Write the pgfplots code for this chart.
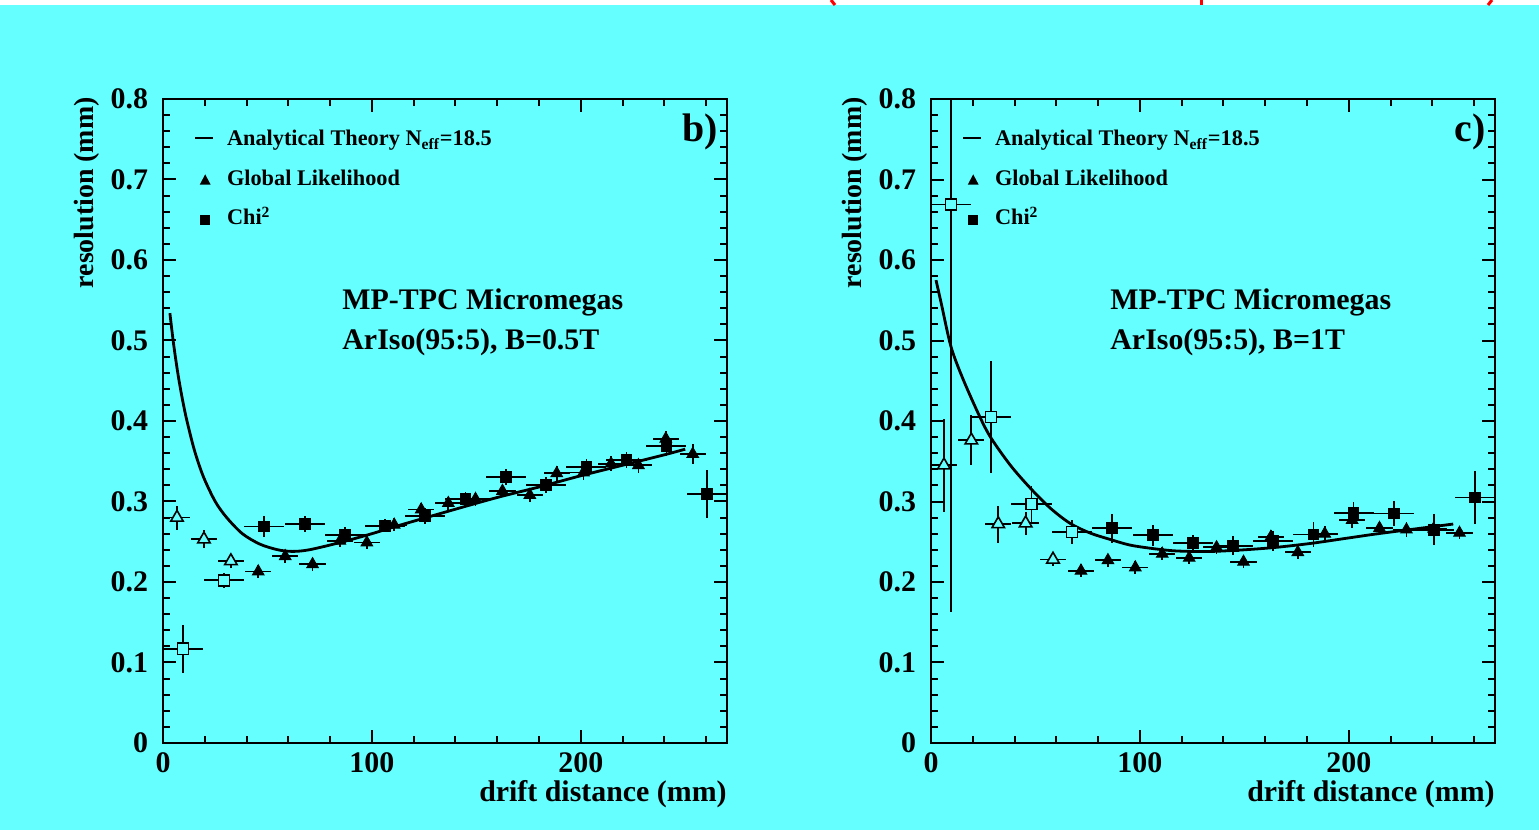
\documentclass[border=0pt]{standalone}
\usepackage{fontspec}
\setmainfont{Liberation Serif}
\usepackage{pgfplots}
\usepackage{pgfplotstable}
\pgfplotsset{compat=1.18}
\definecolor{bg}{HTML}{66FFFF}

% ---------------- data: panel b) ----------------
\pgfplotstableread{
x y ex ey
6.7 0.280 6.3 0.015
19.6 0.253 6.3 0.011
32.5 0.226 6.3 0.009
}\openTriL
\pgfplotstableread{
x y ex ey
9.6 0.117 9.6 0.030
29.2 0.202 9.6 0.009
}\openSqL
\pgfplotstableread{
x y ex ey
45.6 0.213 6.3 0.008
58.5 0.232 6.3 0.008
71.6 0.222 6.3 0.008
84.7 0.251 6.3 0.008
97.6 0.249 6.3 0.008
110.7 0.271 6.3 0.008
123.6 0.290 6.3 0.008
136.6 0.298 6.3 0.008
149.6 0.303 6.3 0.008
162.5 0.313 6.3 0.008
175.6 0.308 6.3 0.009
188.5 0.335 6.3 0.009
201.3 0.336 6.3 0.009
214.5 0.347 6.3 0.009
227.6 0.345 6.3 0.009
240.7 0.378 6.3 0.010
253.6 0.359 6.3 0.013
}\triL
\pgfplotstableread{
x y ex ey
48.5 0.269 9.6 0.013
67.8 0.272 9.6 0.010
87.1 0.258 9.6 0.010
106.4 0.270 9.6 0.008
125.5 0.282 9.6 0.010
144.8 0.303 9.6 0.009
164.1 0.330 9.6 0.010
183.3 0.320 9.6 0.010
202.7 0.343 9.6 0.010
221.9 0.352 9.6 0.010
241.0 0.369 9.6 0.012
260.3 0.309 9.6 0.030
}\sqL
\pgfplotstableread{
x y
3.3 0.534
5 0.497
7 0.461
9 0.431
11.3 0.402
15 0.364
19.3 0.331
25 0.300
30.5 0.280
38 0.260
46.4 0.247
55 0.240
62 0.238
70 0.240
84.7 0.249
100 0.260
110 0.268
136.7 0.288
160 0.305
180 0.318
200 0.332
220 0.345
240 0.358
250 0.365
}\thL
% ---------------- data: panel c) ----------------
\pgfplotstableread{
x y ex ey
6.2 0.345 6.3 0.058
19.3 0.376 6.3 0.031
32.2 0.272 6.3 0.023
45.3 0.273 6.3 0.014
58.4 0.228 6.3 0.008
}\openTriR
\pgfplotstableread{
x y ex ey
9.6 0.669 9.6 0.506
28.7 0.405 9.6 0.070
48.1 0.297 9.6 0.022
67.5 0.262 9.6 0.015
}\openSqR
\pgfplotstableread{
x y ex ey
71.8 0.214 6.3 0.008
84.7 0.227 6.3 0.008
97.8 0.218 6.3 0.008
110.7 0.235 6.3 0.008
123.6 0.230 6.3 0.008
136.7 0.243 6.3 0.008
149.6 0.225 6.3 0.008
162.7 0.256 6.3 0.009
175.6 0.237 6.3 0.008
188.5 0.260 6.3 0.009
201.6 0.277 6.3 0.010
214.7 0.267 6.3 0.009
227.6 0.265 6.3 0.009
240.6 0.266 6.3 0.010
253.0 0.261 6.3 0.008
}\triR
\pgfplotstableread{
x y ex ey
86.8 0.267 9.6 0.018
106.2 0.258 9.6 0.013
125.6 0.248 9.6 0.011
144.5 0.245 9.6 0.012
163.8 0.251 9.6 0.012
183.1 0.259 9.6 0.015
202.3 0.286 9.6 0.013
221.6 0.285 9.6 0.016
240.7 0.265 9.6 0.019
260.3 0.305 9.6 0.033
}\sqR
\pgfplotstableread{
x y
2.4 0.575
5 0.545
9.6 0.492
15.5 0.451
23.4 0.405
28.7 0.379
38 0.345
47.4 0.317
57 0.292
66.5 0.273
76 0.261
85.6 0.253
95 0.246
104.8 0.242
115 0.239
124 0.238
135 0.238
150 0.240
165 0.243
182 0.248
198 0.254
214 0.260
232 0.266
250 0.272
}\thR

\pgfplotsset{
  panel/.style={
    scale only axis, width=282bp, height=322bp,
    xmin=0, xmax=270, ymin=0, ymax=0.8,
    xtick={0,100,200}, minor xtick={0,20,...,260},
    ytick={0,0.1,0.2,0.3,0.4,0.5,0.6,0.7,0.8},
    minor ytick={0,0.02,...,0.8},
    tick align=inside, xtick pos=both, ytick pos=both,
    major tick length=6.5bp, minor tick length=3.5bp,
    axis line style={line width=1bp},
    every tick/.style={line width=1bp, black},
    ticklabel style={font=\fontsize{15}{15}\selectfont\bfseries},
    yticklabel style={xshift=-4bp},
    xticklabel style={yshift=-1.5bp},
    /pgf/number format/assume math mode=true,
    axis background/.style={fill=bg},
  },
  ebars/.style={
    error bars/.cd, x dir=both, x explicit, y dir=both, y explicit,
    error mark=none, error bar style={line width=0.9bp, black},
  },
  ftri/.style={only marks, mark=triangle*, mark size=3.3bp, mark options={fill=black, draw=black, line width=0.5bp}},
  otri/.style={only marks, mark=triangle*, mark size=3.6bp, mark options={fill=bg, draw=black, line width=0.8bp}},
  fsq/.style={only marks, mark=square*, mark size=2.7bp, mark options={fill=black, draw=black, line width=0.5bp}},
  osq/.style={only marks, mark=square*, mark size=2.8bp, mark options={fill=bg, draw=black, line width=0.8bp}},
  theo/.style={no marks, smooth, line width=1.4bp, black},
}

\begin{document}
\begin{tikzpicture}[font=\bfseries]
\useasboundingbox (0,0) rectangle (769.5bp,415bp);
\fill[white] (0,0) rectangle (769.5bp,415bp);
\fill[bg] (0,0) rectangle (769.5bp,412.5bp);
% red fragments of a cropped title above the figure
\draw[red, line width=1.5bp] (415.5bp,415bp) -- (417.5bp,412.5bp);
\draw[red, line width=1.5bp] (600.5bp,415bp) -- (600.5bp,412.5bp);
\draw[red, line width=1.5bp] (746bp,415bp) -- (744bp,412.5bp);

% ---------- panel b) ----------
\begin{axis}[panel, at={(81.5bp,43.5bp)}, anchor=south west]
\addplot[theo] table[x=x,y=y] {\thL};
\addplot[otri, ebars] table[x=x,y=y,x error=ex,y error=ey] {\openTriL};
\addplot[osq, ebars] table[x=x,y=y,x error=ex,y error=ey] {\openSqL};
\addplot[ftri, ebars] table[x=x,y=y,x error=ex,y error=ey] {\triL};
\addplot[fsq, ebars] table[x=x,y=y,x error=ex,y error=ey] {\sqL};
\end{axis}

% ---------- panel c) ----------
\begin{axis}[panel, at={(465.5bp,43.5bp)}, anchor=south west]
\addplot[theo] table[x=x,y=y] {\thR};
\addplot[otri, ebars] table[x=x,y=y,x error=ex,y error=ey] {\openTriR};
\addplot[osq, ebars] table[x=x,y=y,x error=ex,y error=ey] {\openSqR};
\addplot[ftri, ebars] table[x=x,y=y,x error=ex,y error=ey] {\triR};
\addplot[fsq, ebars] table[x=x,y=y,x error=ex,y error=ey] {\sqR};
\end{axis}

% ---------- texts (both panels) ----------
\foreach \dx/\lab/\field in {0bp/b)/{B=0.5T}, 384bp/c)/{B=1T}} {
  \begin{scope}[xshift=\dx]
    % axis titles
    \node[anchor=base east, inner sep=0, font=\fontsize{15}{15}\selectfont\bfseries] at (363.5bp,14.5bp) {drift distance (mm)};
    \node[rotate=90, anchor=base east, inner sep=0, font=\fontsize{14}{15}\selectfont\bfseries] at (46.5bp,366.5bp) {resolution (mm)};
    % legend
    \draw[line width=1.1bp] (97.5bp,345.8bp) -- (106.5bp,345.8bp);
    \fill (102.6bp,327.8bp) -- (99.9bp,322.7bp) -- (105.3bp,322.7bp) -- cycle;
    \fill (100bp,302.5bp) rectangle (105bp,307.5bp);
    \node[anchor=base west, inner sep=0, font=\fontsize{11.2}{11}\selectfont\bfseries] at (113.3bp,342bp) {Analytical Theory N\textsubscript{eff}=18.5};
    \node[anchor=base west, inner sep=0, font=\fontsize{11.2}{11}\selectfont\bfseries] at (113.3bp,322bp) {Global Likelihood};
    \node[anchor=base west, inner sep=0, font=\fontsize{11.2}{11}\selectfont\bfseries] at (113.3bp,302.5bp) {Chi\textsuperscript{2}};
    % panel label
    \node[anchor=base east, inner sep=0, font=\fontsize{20}{20}\selectfont\bfseries] at (359bp,344bp) {\lab};
    % annotation
    \node[anchor=base west, inner sep=0, font=\fontsize{15}{15}\selectfont\bfseries] at (171bp,260bp) {MP-TPC Micromegas};
    \node[anchor=base west, inner sep=0, font=\fontsize{15}{15}\selectfont\bfseries] at (171bp,240bp) {ArIso(95:5), \field};
  \end{scope}
}
\end{tikzpicture}
\end{document}
